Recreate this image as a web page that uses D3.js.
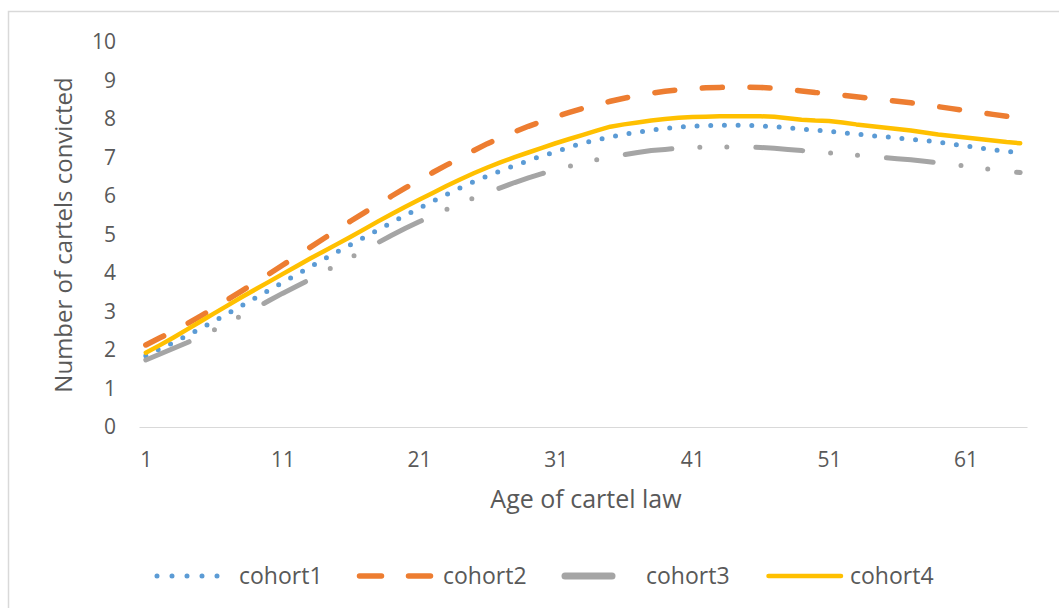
<!DOCTYPE html>
<html>
<head>
<meta charset="utf-8">
<script src="https://cdn.jsdelivr.net/npm/d3@7"></script>
<style>
  body { margin: 0; background: #fff; }
  text { font-family: "Open Sans", sans-serif; fill: #595959; }
</style>
</head>
<body>
<div id="chart"></div>
<script>
var ages = [1, 2, 3, 4, 5, 6, 7, 8, 9, 10, 11, 12, 13, 14, 15, 16, 17, 18, 19, 20,
  21, 22, 23, 24, 25, 26, 27, 28, 29, 30, 31, 32, 33, 34, 35, 36, 37, 38, 39, 40,
  41, 42, 43, 44, 45, 46, 47, 48, 49, 50, 51, 52, 53, 54, 55, 56, 57, 58, 59, 60,
  61, 62, 63, 64, 65];

var cohort1 = [1.85, 2.02, 2.19, 2.37, 2.56, 2.75, 2.95, 3.15, 3.35, 3.55,
  3.75, 3.95, 4.15, 4.35, 4.55, 4.74, 4.93, 5.12, 5.31, 5.50,
  5.68, 5.86, 6.04, 6.21, 6.37, 6.52, 6.66, 6.79, 6.92, 7.04,
  7.15, 7.27, 7.37, 7.46, 7.53, 7.60, 7.66, 7.71, 7.75, 7.79,
  7.81, 7.83, 7.84, 7.84, 7.84, 7.82, 7.80, 7.77, 7.74, 7.71,
  7.68, 7.64, 7.61, 7.57, 7.54, 7.51, 7.47, 7.44, 7.40, 7.35,
  7.30, 7.25, 7.20, 7.16, 7.12];

var cohort2 = [2.13, 2.31, 2.49, 2.68, 2.88, 3.09, 3.31, 3.53, 3.75, 3.97,
  4.20, 4.43, 4.66, 4.89, 5.12, 5.35, 5.57, 5.79, 6.00, 6.21,
  6.41, 6.61, 6.80, 6.99, 7.18, 7.36, 7.52, 7.67, 7.81, 7.94,
  8.06, 8.17, 8.28, 8.37, 8.46, 8.54, 8.61, 8.67, 8.72, 8.76,
  8.79, 8.81, 8.82, 8.83, 8.83, 8.82, 8.80, 8.77, 8.73, 8.69,
  8.66, 8.62, 8.58, 8.54, 8.50, 8.46, 8.42, 8.37, 8.32, 8.27,
  8.22, 8.17, 8.12, 8.07, 8.03];

var cohort3 = [1.74, 1.89, 2.04, 2.19, 2.35, 2.52, 2.70, 2.89, 3.08, 3.28,
  3.47, 3.65, 3.83, 4.02, 4.21, 4.40, 4.60, 4.79, 4.98, 5.16,
  5.33, 5.49, 5.65, 5.80, 5.95, 6.09, 6.22, 6.35, 6.47, 6.58,
  6.68, 6.77, 6.86, 6.94, 7.01, 7.07, 7.13, 7.18, 7.21, 7.24,
  7.26, 7.27, 7.27, 7.27, 7.27, 7.26, 7.24, 7.21, 7.18, 7.15,
  7.12, 7.09, 7.06, 7.03, 7.00, 6.97, 6.94, 6.90, 6.86, 6.82,
  6.78, 6.73, 6.68, 6.64, 6.61];

var cohort4 = [1.93, 2.12, 2.32, 2.53, 2.74, 2.95, 3.16, 3.37, 3.57, 3.77,
  3.97, 4.17, 4.37, 4.56, 4.75, 4.94, 5.14, 5.34, 5.53, 5.72,
  5.90, 6.08, 6.26, 6.43, 6.59, 6.74, 6.88, 7.01, 7.13, 7.25,
  7.37, 7.48, 7.59, 7.70, 7.80, 7.86, 7.91, 7.96, 8.00, 8.03,
  8.05, 8.06, 8.07, 8.07, 8.07, 8.07, 8.06, 8.02, 7.98, 7.96,
  7.95, 7.91, 7.86, 7.82, 7.78, 7.74, 7.70, 7.65, 7.60, 7.56,
  7.52, 7.48, 7.44, 7.40, 7.37];

var xTicks = [1, 11, 21, 31, 41, 51, 61];
var yTicks = [0, 1, 2, 3, 4, 5, 6, 7, 8, 9, 10];
var seriesNames = ["cohort1", "cohort2", "cohort3", "cohort4"];

var width = 1059,
    height = 608;

// line looks, same order as seriesNames
var styles = [
  { color: "#5B9BD5", width: 5, dash: "0 13.7" },
  { color: "#ED7D31", width: 5.5, dash: "20 27.7" },
  { color: "#A5A5A5", width: 5, dash: "47 28 0 27 0 29" },
  { color: "#FFC000", width: 4.5, dash: null }
];

var svg = d3.select("#chart").append("svg")
    .attr("width", width)
    .attr("height", height);

// chart area border
svg.append("rect")
    .attr("x", 8.5)
    .attr("y", 11.5)
    .attr("width", 1060)
    .attr("height", 620)
    .attr("fill", "none")
    .attr("stroke", "#d9d9d9")
    .attr("stroke-width", 1.5);

var x = d3.scalePoint()
    .domain(ages)
    .range([139, 1027])
    .padding(0.5);

var y = d3.scaleLinear()
    .domain([0, 10])
    .range([427, 42]);

var xAxis = svg.append("g")
    .attr("transform", "translate(0,427)")
    .call(d3.axisBottom(x).tickValues(xTicks).tickSize(0).tickSizeOuter(0).tickPadding(25));
xAxis.select(".domain").attr("stroke", "#d9d9d9").attr("stroke-width", 1.2);
xAxis.selectAll("text").style("font-size", "21px");

var yAxis = svg.append("g")
    .attr("transform", "translate(139,0)")
    .call(d3.axisLeft(y).tickValues(yTicks).tickSize(0).tickPadding(23));
yAxis.select(".domain").remove();
yAxis.selectAll("text").style("font-size", "21px");

svg.append("text")
    .attr("x", 586)
    .attr("y", 508)
    .attr("text-anchor", "middle")
    .style("font-size", "25px")
    .text("Age of cartel law");

svg.append("text")
    .attr("transform", "translate(72,235) rotate(-90)")
    .attr("text-anchor", "middle")
    .style("font-size", "24px")
    .text("Number of cartels convicted");

var allSeries = [cohort1, cohort2, cohort3, cohort4];

var line = d3.line()
    .x(function(d, i) { return x(ages[i]); })
    .y(function(d) { return y(d); });

svg.selectAll(".series")
    .data(allSeries)
    .enter().append("path")
    .attr("class", "series")
    .attr("d", line)
    .attr("fill", "none")
    .attr("stroke", function(d, i) { return styles[i].color; })
    .attr("stroke-width", function(d, i) { return styles[i].width; })
    .attr("stroke-dasharray", function(d, i) { return styles[i].dash; })
    .attr("stroke-linecap", "round")
    .attr("stroke-linejoin", "round");

// legend
var legendItems = [
  { x1: 157, x2: 232, dash: "0 15", textX: 239 },
  { x1: 359.5, x2: 430.5, dash: "22 27", textX: 443 },
  { x1: 565, x2: 612, dash: null, textX: 646 },
  { x1: 768.5, x2: 841, dash: null, textX: 850 }
];

var legend = svg.selectAll(".legend")
    .data(seriesNames)
    .enter().append("g")
    .attr("class", "legend");

legend.append("line")
    .attr("x1", function(d, i) { return legendItems[i].x1; })
    .attr("x2", function(d, i) { return legendItems[i].x2; })
    .attr("y1", 576)
    .attr("y2", 576)
    .attr("stroke", function(d, i) { return styles[i].color; })
    .attr("stroke-width", function(d, i) { return i === 2 ? 7 : styles[i].width; })
    .attr("stroke-dasharray", function(d, i) { return legendItems[i].dash; })
    .attr("stroke-linecap", "round");

legend.append("text")
    .attr("x", function(d, i) { return legendItems[i].textX; })
    .attr("y", 576)
    .attr("dy", "0.35em")
    .style("font-size", "23px")
    .text(function(d) { return d; });
</script>
</body>
</html>
